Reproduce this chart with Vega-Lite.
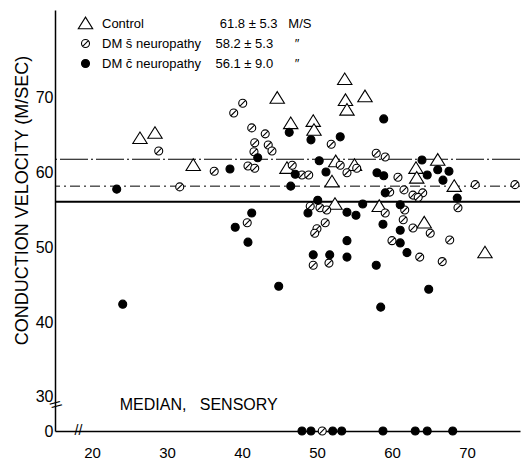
{
  "$schema": "https://vega.github.io/schema/vega-lite/v6.json",
  "width": 465,
  "height": 421,
  "autosize": {"type": "none"},
  "padding": {"left": 55, "top": 10, "right": 2, "bottom": 35},
  "background": "white",
  "config": {
    "view": {"stroke": null},
    "font": "Liberation Sans",
    "axis": {"grid": false, "domainColor": "black", "domainWidth": 1.5, "labelColor": "black", "labelFont": "Liberation Sans", "labelFontSize": 15, "ticks": false},
    "legend": {"labelFont": "Liberation Sans", "labelFontSize": 13, "labelColor": "black", "labelLimit": 400, "labelOffset": 10, "rowPadding": 6, "symbolStrokeColor": "black", "symbolStrokeWidth": 1.1, "symbolSize": 64, "symbolOpacity": 1}
  },
  "datasets": {
    "pts": [
      {"g":"C","x":26.4,"y":64.6},{"g":"C","x":28.4,"y":65.3},{"g":"C","x":33.5,"y":61.0},{"g":"C","x":44.7,"y":70.0},
      {"g":"C","x":46.5,"y":66.6},{"g":"C","x":49.5,"y":66.9},{"g":"C","x":49.6,"y":65.7},{"g":"C","x":53.7,"y":72.5},
      {"g":"C","x":53.8,"y":69.7},{"g":"C","x":54.0,"y":68.4},{"g":"C","x":56.4,"y":70.2},{"g":"C","x":46.0,"y":60.6},
      {"g":"C","x":52.0,"y":58.8},{"g":"C","x":52.5,"y":61.5},{"g":"C","x":55.0,"y":61.0},{"g":"C","x":66.1,"y":61.7},
      {"g":"C","x":63.2,"y":60.6},{"g":"C","x":63.3,"y":59.3},{"g":"C","x":68.3,"y":58.2},{"g":"C","x":58.3,"y":55.5},
      {"g":"C","x":64.3,"y":53.3},{"g":"C","x":52.4,"y":55.8},{"g":"C","x":72.4,"y":49.3},
      {"g":"S","x":28.9,"y":62.9},{"g":"S","x":36.3,"y":60.2},{"g":"S","x":31.7,"y":58.1},{"g":"S","x":40.1,"y":69.3},
      {"g":"S","x":38.9,"y":68.0},{"g":"S","x":41.3,"y":66.0},{"g":"S","x":41.7,"y":64.0},{"g":"S","x":41.6,"y":62.8},
      {"g":"S","x":40.8,"y":60.9},{"g":"S","x":41.7,"y":60.6},{"g":"S","x":40.7,"y":53.3},{"g":"S","x":43.1,"y":65.2},
      {"g":"S","x":43.5,"y":63.7},{"g":"S","x":44.0,"y":62.9},{"g":"S","x":46.7,"y":61.0},{"g":"S","x":48.0,"y":59.7},
      {"g":"S","x":48.9,"y":59.7},{"g":"S","x":51.9,"y":63.8},{"g":"S","x":57.9,"y":62.6},{"g":"S","x":59.1,"y":62.1},
      {"g":"S","x":53.1,"y":61.0},{"g":"S","x":55.3,"y":60.6},{"g":"S","x":54.0,"y":60.0},{"g":"S","x":60.8,"y":59.4},
      {"g":"S","x":61.6,"y":57.7},{"g":"S","x":62.8,"y":57.0},{"g":"S","x":64.1,"y":57.3},{"g":"S","x":63.5,"y":56.7},
      {"g":"S","x":59.7,"y":57.4},{"g":"S","x":71.1,"y":58.4},{"g":"S","x":76.4,"y":58.4},{"g":"S","x":68.8,"y":55.3},
      {"g":"S","x":49.1,"y":55.5},{"g":"S","x":50.4,"y":55.3},{"g":"S","x":51.3,"y":55.0},{"g":"S","x":51.1,"y":53.3},
      {"g":"S","x":50.0,"y":52.5},{"g":"S","x":49.7,"y":51.9},{"g":"S","x":59.1,"y":54.6},{"g":"S","x":61.7,"y":55.0},
      {"g":"S","x":61.5,"y":53.7},{"g":"S","x":60.0,"y":50.9},{"g":"S","x":62.8,"y":52.6},{"g":"S","x":65.1,"y":51.9},
      {"g":"S","x":67.7,"y":51.0},{"g":"S","x":63.7,"y":48.7},{"g":"S","x":66.7,"y":48.1},{"g":"S","x":49.5,"y":47.6},
      {"g":"S","x":51.6,"y":47.9},{"g":"S","x":50.7,"y":0},
      {"g":"W","x":23.3,"y":57.8},{"g":"W","x":38.4,"y":60.5},{"g":"W","x":42.1,"y":62.0},{"g":"W","x":41.3,"y":54.6},
      {"g":"W","x":39.1,"y":52.7},{"g":"W","x":40.8,"y":50.7},{"g":"W","x":24.1,"y":42.4},{"g":"W","x":58.9,"y":67.2},
      {"g":"W","x":46.3,"y":65.4},{"g":"W","x":49.2,"y":64.4},{"g":"W","x":53.1,"y":64.8},{"g":"W","x":50.3,"y":61.6},
      {"g":"W","x":51.2,"y":60.1},{"g":"W","x":47.1,"y":59.8},{"g":"W","x":46.5,"y":58.2},{"g":"W","x":58.0,"y":60.0},
      {"g":"W","x":58.9,"y":59.6},{"g":"W","x":64.0,"y":61.7},{"g":"W","x":67.6,"y":60.2},{"g":"W","x":66.1,"y":60.4},
      {"g":"W","x":64.7,"y":59.7},{"g":"W","x":66.8,"y":59.0},{"g":"W","x":59.1,"y":57.3},{"g":"W","x":50.1,"y":56.3},
      {"g":"W","x":48.8,"y":54.6},{"g":"W","x":54.0,"y":54.7},{"g":"W","x":55.2,"y":54.3},{"g":"W","x":56.1,"y":55.8},
      {"g":"W","x":61.1,"y":55.7},{"g":"W","x":68.7,"y":56.6},{"g":"W","x":58.8,"y":53.1},{"g":"W","x":61.1,"y":52.3},
      {"g":"W","x":61.1,"y":50.6},{"g":"W","x":62.0,"y":49.3},{"g":"W","x":54.0,"y":50.9},{"g":"W","x":49.5,"y":49.0},
      {"g":"W","x":51.7,"y":49.0},{"g":"W","x":54.0,"y":48.7},{"g":"W","x":57.9,"y":47.6},{"g":"W","x":44.9,"y":44.8},
      {"g":"W","x":58.5,"y":42.0},{"g":"W","x":64.9,"y":44.4},
      {"g":"W","x":48.0,"y":0},{"g":"W","x":49.2,"y":0},{"g":"W","x":52.1,"y":0},{"g":"W","x":53.3,"y":0},
      {"g":"W","x":58.8,"y":0},{"g":"W","x":63.1,"y":0},{"g":"W","x":64.7,"y":0},{"g":"W","x":68.1,"y":0}
    ]
  },
  "layer": [
    {
      "data": {"values": [{"y": 61.8}]},
      "mark": {"type": "rule", "color": "black", "strokeWidth": 1, "strokeDash": [28, 3, 2, 3]},
      "encoding": {
        "y": {"field": "y", "type": "quantitative", "scale": {"domain": [0, 28.5, 81.78], "range": [421, 398, 0], "nice": false, "zero": false}}
      }
    },
    {
      "data": {"values": [{"y": 58.2}]},
      "mark": {"type": "rule", "color": "black", "strokeWidth": 1, "strokeDash": [10, 4, 2, 4]},
      "encoding": {
        "y": {"field": "y", "type": "quantitative", "scale": {"domain": [0, 28.5, 81.78], "range": [421, 398, 0], "nice": false, "zero": false}}
      }
    },
    {
      "data": {"values": [{"y": 56.1}]},
      "mark": {"type": "rule", "color": "black", "strokeWidth": 2},
      "encoding": {
        "y": {"field": "y", "type": "quantitative", "scale": {"domain": [0, 28.5, 81.78], "range": [421, 398, 0], "nice": false, "zero": false}}
      }
    },
    {
      "data": {"name": "pts"},
      "mark": {"type": "point", "filled": false, "size": 64, "stroke": "black", "strokeWidth": 1.1, "opacity": 1},
      "encoding": {
        "x": {"field": "x", "type": "quantitative", "scale": {"domain": [15.07, 77.07], "nice": false, "zero": false},
              "axis": {"title": null, "values": [20,30,40,50,60,70], "labelPadding": 14}},
        "y": {"field": "y", "type": "quantitative", "scale": {"domain": [0, 28.5, 81.78], "range": [421, 398, 0], "nice": false, "zero": false},
              "axis": {"title": "CONDUCTION VELOCITY (M/SEC)", "titleFont": "Liberation Sans", "titleFontSize": 18, "titleFontWeight": "normal", "titleColor": "black", "titlePadding": 4, "titleY": 190, "values": [0,30,40,50,60,70], "labelPadding": 2, "labelFontSize": 16}},
        "shape": {"field": "g", "type": "nominal",
                  "scale": {"domain": ["C","S","W"], "range": ["M0,-1.6L1.8,1.3L-1.8,1.3Z", "M-1,0A1,1,0,1,1,1,0A1,1,0,1,1,-1,0ZM-0.7,0.7L0.7,-0.7", "circle"]},
                  "legend": {"title": null, "orient": "none", "legendX": 24, "legendY": 7,
                    "encode": {"symbols": {"update": {"stroke": {"value": "black"}, "strokeWidth": {"value": 1.1}, "opacity": {"value": 1}}}},
                    "labelExpr": "datum.label == 'C' ? 'Control\u00a0\u00a0\u00a0\u00a0\u00a0\u00a0\u00a0\u00a0\u00a0\u00a0\u00a0\u00a0\u00a0\u00a0\u00a0\u00a0\u00a0\u00a0\u00a0\u00a0\u00a061.8 ± 5.3\u00a0\u00a0\u00a0M/S' : datum.label == 'S' ? 'DM\u00a0s\u0304\u00a0neuropathy\u00a0\u00a0\u00a0\u00a058.2 ± 5.3\u00a0\u00a0\u00a0\u00a0\u00a0\u00a0\u2033' : 'DM\u00a0c\u0304\u00a0neuropathy\u00a0\u00a0\u00a0\u00a056.1 ± 9.0\u00a0\u00a0\u00a0\u00a0\u00a0\u00a0\u2033'"}},
        "fill": {"field": "g", "type": "nominal", "scale": {"domain": ["C","S","W"], "range": ["white","white","black"]},
                 "legend": {"title": null, "orient": "none", "legendX": 24, "legendY": 7,
                    "encode": {"symbols": {"update": {"stroke": {"value": "black"}, "strokeWidth": {"value": 1.1}, "opacity": {"value": 1}}}}}}
      }
    },
    {
      "data": {"values": [{"x": 23.7, "y": 28.9, "t": "MEDIAN,\u00a0\u00a0\u00a0SENSORY"}]},
      "mark": {"type": "text", "align": "left", "baseline": "middle", "font": "Liberation Sans", "fontSize": 16, "color": "black"},
      "encoding": {
        "x": {"field": "x", "type": "quantitative", "scale": {"domain": [15.07, 77.07], "nice": false, "zero": false}},
        "y": {"field": "y", "type": "quantitative", "scale": {"domain": [0, 28.5, 81.78], "range": [421, 398, 0], "nice": false, "zero": false}},
        "text": {"field": "t"}
      }
    },
    {
      "data": {"values": [{"x": 18.2, "y": 0, "t": "//"}]},
      "mark": {"type": "text", "align": "center", "baseline": "middle", "font": "Liberation Sans", "fontSize": 14, "color": "black"},
      "encoding": {
        "x": {"field": "x", "type": "quantitative", "scale": {"domain": [15.07, 77.07], "nice": false, "zero": false}},
        "y": {"field": "y", "type": "quantitative", "scale": {"domain": [0, 28.5, 81.78], "range": [421, 398, 0], "nice": false, "zero": false}},
        "text": {"field": "t"}
      }
    },
    {
      "data": {"values": [{"x": 15.07, "y": 28.9, "t": "//"}]},
      "mark": {"type": "text", "align": "center", "baseline": "middle", "font": "Liberation Sans", "fontSize": 14, "color": "black", "angle": 60},
      "encoding": {
        "x": {"field": "x", "type": "quantitative", "scale": {"domain": [15.07, 77.07], "nice": false, "zero": false}},
        "y": {"field": "y", "type": "quantitative", "scale": {"domain": [0, 28.5, 81.78], "range": [421, 398, 0], "nice": false, "zero": false}},
        "text": {"field": "t"}
      }
    }
  ]
}
